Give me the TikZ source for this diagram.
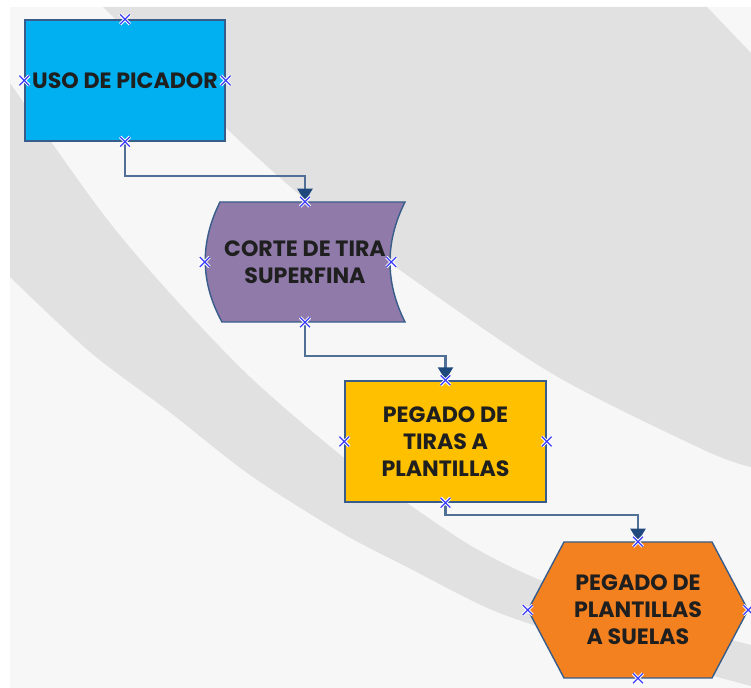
\documentclass[tikz,border=0pt]{standalone}
\usepackage{fontspec}
\newfontfamily\gothic{Poppins}
\usetikzlibrary{arrows.meta,shapes.misc}

\definecolor{panelgray}{RGB}{247,247,247}
\definecolor{bandgray}{RGB}{225,225,225}
\definecolor{picadorblue}{RGB}{0,176,240}
\definecolor{cortepurple}{RGB}{143,122,169}
\definecolor{tirasyellow}{RGB}{255,192,0}
\definecolor{suelasorange}{RGB}{244,129,32}
\definecolor{edgeblue}{RGB}{56,93,138}
\definecolor{connblue}{RGB}{80,112,152}
\definecolor{tipblue}{RGB}{31,73,125}
\definecolor{markblue}{RGB}{60,60,255}

\tikzset{band/.style={fill=bandgray,draw=none},
process/.style={inner sep=0.05cm,align=center,text=black!88,font=\gothic\bfseries\fontsize{12.6}{15.4}\selectfont},
outline/.style={draw=edgeblue,line width=0.8pt,line join=miter},
conn/.style={draw=connblue,line width=1.3pt,-{Triangle[width=0.3cm,length=0.26cm,fill=tipblue,color=tipblue]}},
point mark/.style={cross out,draw=markblue,line width=0.7pt,minimum size=0.17cm,inner sep=0pt,
  preaction={draw=white,line width=1.8pt}}}

\begin{document}
\begin{tikzpicture}[x=0.02cm,y=-0.02cm]
\useasboundingbox (0,0) rectangle (751,688);

%% background panel and bands
\fill[white] (0,0) rectangle (751,688);
\fill[panelgray] (10,7) rectangle (751,688);
\fill[band] (103,7) -- (707,7) -- (751,53) -- (751,467)
  -- plot[smooth] coordinates {(751,467) (704,450) (551,373) (397,268) (306,200) (225,127) (103,7)} -- cycle;
\fill[band] (10,83)
  -- plot[smooth] coordinates {(10,83) (100,210) (167,290) (250,377) (343,457) (407,503) (473,547) (540,580) (640,615) (751,645)}
  -- (751,686)
  -- plot[smooth] coordinates {(751,686) (600,645) (497,612) (407,567) (340,532) (250,475) (167,410) (90,352) (10,277)} -- cycle;

%% shapes drawn by hand
\draw[outline,fill=cortepurple] (220,202) -- (405,202) .. controls (385,242) and (385,282) .. (405,322)
  -- (222,322) .. controls (200,282) and (200,242) .. cycle;
\draw[outline,fill=suelasorange] (564,542) -- (712,542) -- (748,610) -- (712,678) -- (564,678) -- (528,610) -- cycle;

%% process nodes
\node[process,outline,fill=picadorblue,minimum width=4cm,minimum height=2.42cm] (uso) at (125,80.5) {USO DE PICADOR};
\node[process,minimum width=4cm,minimum height=2.4cm] (corte) at (305,262) {CORTE DE TIRA\\SUPERFINA};
\node[process,outline,fill=tirasyellow,minimum width=4.02cm,minimum height=2.42cm] (pegtiras) at (445.5,441.5) {PEGADO DE\\TIRAS A\\PLANTILLAS};
\node[process,minimum width=4.4cm,minimum height=2.72cm] (pegsuelas) at (638,610) {PEGADO DE\\PLANTILLAS\\A SUELAS};

%% connectors
\coordinate (bend1) at (305,176);
\coordinate (bend2) at (445.5,356);
\coordinate (bend3) at (638,515);
\draw[conn] (uso.south) |- (bend1) -- (corte.north);
\draw[conn] (corte.south) |- (bend2) -- (pegtiras.north);
\draw[conn] (pegtiras.south) |- (bend3) -- (pegsuelas.north);

%% connection points
\foreach \n in {uso,corte,pegtiras,pegsuelas}
  \foreach \a in {north,south,west}
    \node[point mark] at (\n.\a) {};
\foreach \n in {uso,pegtiras,pegsuelas}
  \node[point mark] at (\n.east) {};
\node[point mark] at ([xshift=-0.28cm]corte.east) {};

\end{tikzpicture}
\end{document}
